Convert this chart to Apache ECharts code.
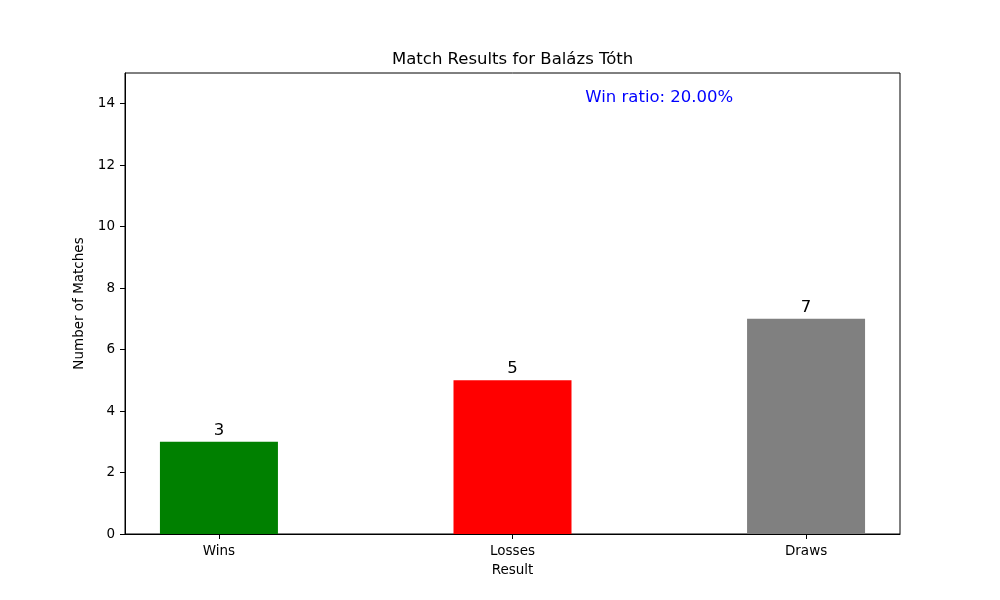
<!DOCTYPE html>
<html>
<head>
<meta charset="utf-8">
<script src="https://cdn.jsdelivr.net/npm/echarts@6/dist/echarts.min.js"></script>
<style>
  html, body { margin: 0; padding: 0; background: #fff; }
  #main { width: 1000px; height: 600px; }
</style>
</head>
<body>
<div id="main"></div>
<script>
var categories = ['Wins', 'Losses', 'Draws'];
var counts = [3, 5, 7];
var barColors = ['#008000', '#ff0000', '#808080'];
var yTicks = [0, 2, 4, 6, 8, 10, 12, 14];
var winRatioText = 'Win ratio: 20.00%';

var font = 'DejaVu Sans';
var chart = echarts.init(document.getElementById('main'));

var barData = [];
for (let i = 0; i < counts.length; i++) {
    barData.push({ value: [i, counts[i]], itemStyle: { color: barColors[i] } });
}

var option = {
    backgroundColor: '#fff',
    animation: false,
    title: {
        text: 'Match Results for Balázs Tóth',
        left: 387,
        top: 46,
        textStyle: { fontFamily: font, fontSize: 16.5, fontWeight: 'normal', color: '#000' }
    },
    grid: {
        left: 125,
        right: 100,
        top: 73,
        bottom: 66,
        show: true,
        borderColor: '#000',
        borderWidth: 1
    },
    xAxis: {
        type: 'value',
        min: -0.32,
        max: 2.32,
        name: 'Result',
        nameLocation: 'middle',
        nameGap: 29,
        nameTextStyle: { fontFamily: font, fontSize: 13.5, color: '#000' },
        splitLine: { show: false },
        axisLine: { onZero: false, lineStyle: { color: '#000', width: 1 } },
        axisTick: {
            customValues: [0, 1, 2],
            length: 5,
            lineStyle: { color: '#000' }
        },
        axisLabel: {
            customValues: [0, 1, 2],
            fontFamily: font,
            fontSize: 13.5,
            color: '#000',
            margin: 10,
            formatter: function (value) {
                return categories[Math.round(value)];
            }
        }
    },
    yAxis: {
        type: 'value',
        min: 0,
        max: 15,
        name: 'Number of Matches',
        nameLocation: 'middle',
        nameGap: 35,
        nameTextStyle: { fontFamily: font, fontSize: 13.5, color: '#000' },
        splitLine: { show: false },
        axisLine: { show: true, onZero: false, lineStyle: { color: '#000', width: 1 } },
        axisTick: {
            show: true,
            customValues: yTicks,
            length: 5,
            lineStyle: { color: '#000' }
        },
        axisLabel: {
            customValues: yTicks,
            fontFamily: font,
            fontSize: 13.5,
            color: '#000',
            margin: 10
        }
    },
    series: [{
        type: 'bar',
        data: barData,
        barWidth: 118,
        label: {
            show: true,
            position: 'top',
            distance: 3,
            fontFamily: font,
            fontSize: 16.5,
            color: '#000',
            formatter: function (p) { return p.value[1]; }
        }
    }]
};
chart.setOption(option);

// win ratio annotation, centred at data x=1.5 near the top
var pos = chart.convertToPixel({ gridIndex: 0 }, [1.5, 14.2]);
chart.setOption({
    graphic: [{
        type: 'text',
        x: pos[0],
        y: pos[1],
        style: {
            text: winRatioText,
            fill: '#0000ff',
            fontFamily: font,
            fontSize: 16.5,
            align: 'center',
            verticalAlign: 'middle'
        }
    }]
});
</script>
</body>
</html>
